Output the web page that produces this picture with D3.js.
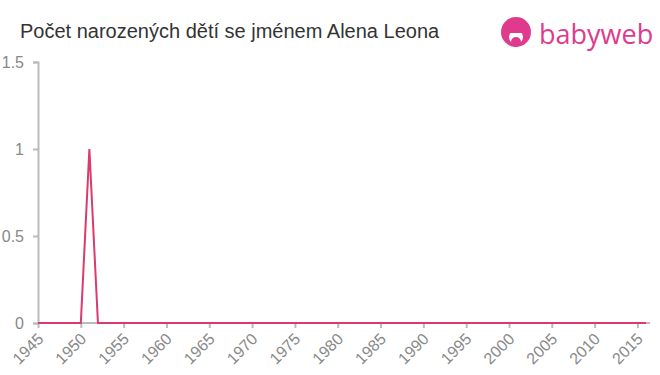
<!DOCTYPE html>
<html>
<head>
<meta charset="utf-8">
<script src="https://cdn.jsdelivr.net/npm/d3@7"></script>
<style>
  body { margin: 0; background: #fff; }
  svg { display: block; font-family: "Liberation Sans", Arial, sans-serif; }
</style>
</head>
<body>
<div id="chart"></div>
<script>
// Years shown on the chart
const years = [
  1945, 1946, 1947, 1948, 1949, 1950, 1951, 1952, 1953, 1954,
  1955, 1956, 1957, 1958, 1959, 1960, 1961, 1962, 1963, 1964,
  1965, 1966, 1967, 1968, 1969, 1970, 1971, 1972, 1973, 1974,
  1975, 1976, 1977, 1978, 1979, 1980, 1981, 1982, 1983, 1984,
  1985, 1986, 1987, 1988, 1989, 1990, 1991, 1992, 1993, 1994,
  1995, 1996, 1997, 1998, 1999, 2000, 2001, 2002, 2003, 2004,
  2005, 2006, 2007, 2008, 2009, 2010, 2011, 2012, 2013, 2014,
  2015, 2016
];
// Births per year
const births = [
  0, 0, 0, 0, 0, 0, 1, 0, 0, 0,
  0, 0, 0, 0, 0, 0, 0, 0, 0, 0,
  0, 0, 0, 0, 0, 0, 0, 0, 0, 0,
  0, 0, 0, 0, 0, 0, 0, 0, 0, 0,
  0, 0, 0, 0, 0, 0, 0, 0, 0, 0,
  0, 0, 0, 0, 0, 0, 0, 0, 0, 0,
  0, 0, 0, 0, 0, 0, 0, 0, 0, 0,
  0, 0
];
const xTicks = [1945, 1950, 1955, 1960, 1965, 1970, 1975, 1980, 1985, 1990, 1995, 2000, 2005, 2010, 2015];
const yTicks = [0, 0.5, 1, 1.5];

const width = 660, height = 375;
const svg = d3.select('#chart').append('svg')
  .attr('width', width)
  .attr('height', height);

// Title
svg.append('text')
  .attr('x', 20).attr('y', 38)
  .attr('fill', '#333')
  .style('font-size', '20px')
  .text('Počet narozených dětí se jménem Alena Leona');

// Logo
const logo = svg.append('g').attr('transform', 'translate(516,32)');
logo.append('circle').attr('r', 15).attr('fill', '#e03a8c');
logo.append('circle').attr('cx', 0).attr('cy', 5).attr('r', 7).attr('fill', '#fff');
logo.append('rect').attr('x', -10).attr('y', -3).attr('width', 20).attr('height', 4).attr('fill', '#e03a8c');
logo.append('circle').attr('cx', 0).attr('cy', 10).attr('r', 5).attr('fill', '#e03a8c');
svg.append('text')
  .attr('x', 539).attr('y', 44)
  .attr('fill', '#e03a8c')
  .style('font-size', '27px')
  .style('font-weight', '500')
  .style('font-family', '"Open Sans", sans-serif')
  .text('babyweb');

// Scales
const x = d3.scaleLinear().domain([1945, 2016]).range([38, 646]);
const y = d3.scaleLinear().domain([0, 1.5]).range([323, 62]);

const axisColor = '#bbb';
const labelColor = '#888';

// Y axis
const yAxis = svg.append('g')
  .attr('transform', 'translate(38,0)')
  .call(d3.axisLeft(y).tickValues(yTicks).tickSize(5).tickPadding(9).tickFormat(d3.format('')))
  .attr('font-size', 16)
  .attr('font-family', '"Liberation Sans", Arial, sans-serif');
yAxis.select('.domain').attr('stroke', axisColor).attr('stroke-width', 2);
yAxis.selectAll('.tick line').attr('stroke', axisColor).attr('stroke-width', 2);
yAxis.selectAll('.tick text').attr('fill', labelColor);

// X axis
const xAxis = svg.append('g')
  .attr('transform', 'translate(0,323)')
  .call(d3.axisBottom(x).tickValues(xTicks).tickSize(5).tickFormat(d3.format('d')))
  .attr('font-size', 16)
  .attr('font-family', '"Liberation Sans", Arial, sans-serif');
xAxis.select('.domain').remove();
xAxis.append('line')
  .attr('x1', 38).attr('x2', 650)
  .attr('stroke', axisColor).attr('stroke-width', 2);
xAxis.selectAll('.tick line').attr('stroke', axisColor).attr('stroke-width', 2);
xAxis.selectAll('.tick text')
  .attr('fill', labelColor)
  .attr('font-size', 16)
  .attr('text-anchor', 'end')
  .attr('x', 0).attr('y', 0)
  .attr('dy', '0.35em')
  .attr('transform', 'translate(2,13) rotate(-45)');

// Line
const line = d3.line()
  .x((d, i) => x(years[i]))
  .y(d => y(d));
svg.append('path')
  .datum(births)
  .attr('fill', 'none')
  .attr('stroke', '#dc3a6c')
  .attr('stroke-width', 2)
  .attr('d', line);
</script>
</body>
</html>
